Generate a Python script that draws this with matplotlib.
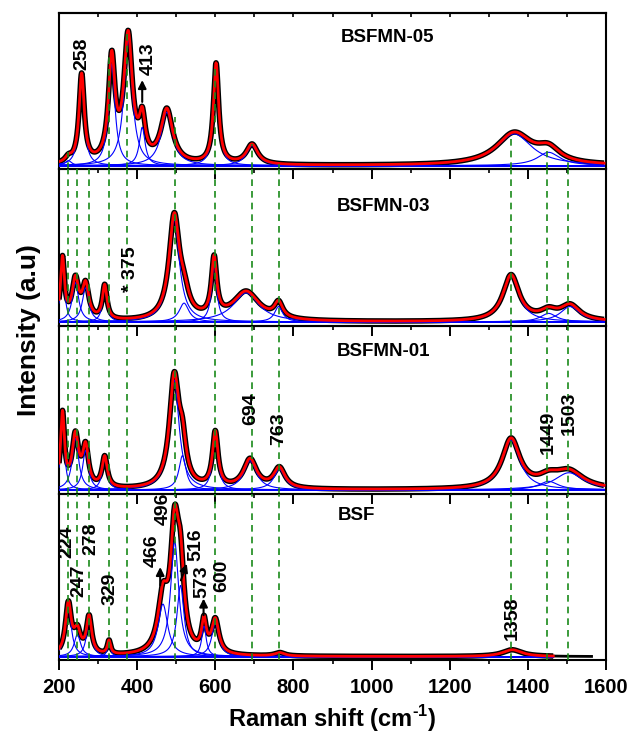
import numpy as np
import matplotlib
matplotlib.use('Agg')
import matplotlib.pyplot as plt
from matplotlib.ticker import MultipleLocator

plt.rcParams['font.family'] = ['Liberation Sans', 'DejaVu Sans']
plt.rcParams['font.weight'] = 'bold'
plt.rcParams['mathtext.fontset'] = 'custom'
plt.rcParams['mathtext.bf'] = 'Liberation Sans:bold'
plt.rcParams['mathtext.rm'] = 'Liberation Sans:bold'

# ---------------- data ----------------
samples = ['BSFMN-05', 'BSFMN-03', 'BSFMN-01', 'BSF']

# Lorentzian components: centre (cm-1), amplitude (a.u.), FWHM (cm-1)
bsfmn05_centers = [224, 258, 335, 377, 413, 476, 602, 694, 1365, 1453]
bsfmn05_amps    = [15, 265, 305, 375, 115, 160, 300, 60, 95, 40]
bsfmn05_widths  = [20, 16, 20, 26, 18, 36, 16, 35, 110, 70]

bsfmn03_centers = [209, 242, 268, 317, 495, 520, 597, 679, 762, 1357, 1453, 1508]
bsfmn03_amps    = [180, 115, 100, 100, 300, 55, 170, 85, 45, 135, 25, 45]
bsfmn03_widths  = [12, 20, 20, 14, 32, 30, 16, 80, 25, 50, 50, 60]

bsfmn01_centers = [209, 242, 268, 317, 495, 516, 600, 689, 764, 1357, 1453, 1505]
bsfmn01_amps    = [215, 150, 115, 90, 320, 100, 160, 85, 60, 145, 25, 50]
bsfmn01_widths  = [12, 20, 18, 16, 30, 22, 17, 40, 35, 55, 60, 90]

bsf_centers = [224, 247, 277, 328, 466, 496, 511, 571, 600, 765, 1360]
bsf_amps    = [150, 65, 110, 40, 155, 340, 210, 90, 100, 10, 20]
bsf_widths  = [18, 20, 16, 10, 30, 25, 22, 14, 22, 30, 60]

data_end = [1595, 1595, 1595, 1563]
fit_end  = [1595, 1595, 1595, 1465]
ylims = [(-10, 457), (-12, 448), (-12, 478), (-10, 480)]
height_ratios = [156, 157, 168, 166]

# dashed reference lines
ref_lines = [224, 247, 278, 329, 375, 496, 600, 694, 763, 1358, 1449, 1503]
top_lines = [224, 329, 375, 496, 600, 694, 763, 1358, 1449, 1503]
top_line_heights = [40, 325, 395, 145, 305, 65, 5, 95, 45, 15]

# annotations: (text, x, y as fraction of panel height)
labels_05 = [('258', 258, 0.74), ('413', 429, 0.71)]
labels_03 = [('* 375', 383, 0.36)]
labels_01 = [('694', 691, 0.51), ('763', 762, 0.39), ('1449', 1451, 0.37), ('1503', 1506, 0.48)]
labels_bsf = [('224', 221, 0.71), ('247', 252, 0.48), ('278', 282, 0.73), ('329', 331, 0.43),
              ('466', 438, 0.66), ('496', 467, 0.91), ('516', 550, 0.695), ('573', 566, 0.47),
              ('600', 617, 0.51), ('1358', 1361, 0.25)]
arrows_05 = [((413, 0.43), (413, 0.57))]
arrows_bsf = [((459, 0.45), (459, 0.56)), ((512, 0.48), (527, 0.58)), ((570, 0.27), (570, 0.37))]
title_pos = [(1040, 0.84), (1031, 0.76), (1031, 0.85), (961, 0.87)]

params = [(bsfmn05_centers, bsfmn05_amps, bsfmn05_widths),
          (bsfmn03_centers, bsfmn03_amps, bsfmn03_widths),
          (bsfmn01_centers, bsfmn01_amps, bsfmn01_widths),
          (bsf_centers, bsf_amps, bsf_widths)]
all_labels = [labels_05, labels_03, labels_01, labels_bsf]
all_arrows = [arrows_05, [], [], arrows_bsf]


def lorentz(x, c, a, w):
    hw = w / 2.0
    return a * hw ** 2 / ((x - c) ** 2 + hw ** 2)


fig = plt.figure(figsize=(6.4, 7.35), dpi=100)
gs = fig.add_gridspec(4, 1, height_ratios=height_ratios, hspace=0,
                      left=59 / 640, right=606 / 640, top=1 - 13 / 735, bottom=1 - 660 / 735)
axes = [fig.add_subplot(gs[i]) for i in range(4)]

green = '#1a8a1a'
for i, ax in enumerate(axes):
    ax.set_facecolor('none')
    cs, amps, ws = params[i]
    xf = np.linspace(200, fit_end[i], 1400)
    total_f = sum(lorentz(xf, c, a, w) for c, a, w in zip(cs, amps, ws))
    ax.plot(xf, total_f, color='black', lw=4.0, zorder=2, solid_capstyle='butt')
    if data_end[i] > fit_end[i]:
        xt = np.linspace(fit_end[i], data_end[i], 200)
        total_t = sum(lorentz(xt, c, a, w) for c, a, w in zip(cs, amps, ws))
        ax.plot(xt, total_t, color='black', lw=2.0, zorder=2)
    for c, a, w in zip(cs, amps, ws):
        ax.plot(xf, lorentz(xf, c, a, w), color='blue', lw=0.8, zorder=3)
    ax.plot([200, fit_end[i]], [0, 0], color='blue', lw=1.4, zorder=3)
    ax.plot(xf, total_f, color='red', lw=2.0, zorder=4)

    if i == 0:
        for x, h in zip(top_lines, top_line_heights):
            ax.plot([x, x], [ylims[i][0], h], color=green, lw=1.2, ls=(0, (4, 3)), zorder=5)
    else:
        for x in ref_lines:
            ax.axvline(x, color=green, lw=1.2, ls=(0, (4, 3)), zorder=5)

    ax.set_xlim(200, 1600)
    ax.set_ylim(*ylims[i])
    ax.set_yticks([])
    ax.xaxis.set_major_locator(MultipleLocator(200))
    ax.xaxis.set_minor_locator(MultipleLocator(100))
    ax.tick_params(axis='x', which='major', direction='out', length=7, width=1.4,
                   labelsize=14.5, pad=6)
    ax.tick_params(axis='x', which='minor', direction='out', length=3, width=1.2)
    for sp in ax.spines.values():
        sp.set_linewidth(1.5)
    if i < 3:
        ax.tick_params(axis='x', labelbottom=False)

    tr = ax.get_xaxis_transform()
    ax.text(title_pos[i][0], title_pos[i][1], samples[i], transform=tr, fontsize=13.5,
            fontweight='bold', ha='center', va='center')
    for txt, x, y in all_labels[i]:
        ax.text(x, y, txt, transform=tr, rotation=90, fontsize=14, fontweight='bold',
                ha='center', va='center', zorder=6)
    for (x0, y0), (x1, y1) in all_arrows[i]:
        ax.annotate('', xy=(x1, y1), xytext=(x0, y0), xycoords=tr, textcoords=tr,
                    arrowprops=dict(arrowstyle='-|>', color='black', lw=1.5,
                                    mutation_scale=12, shrinkA=0, shrinkB=0), zorder=6)

top = axes[0].secondary_xaxis('top')
top.xaxis.set_major_locator(MultipleLocator(100))
top.tick_params(axis='x', direction='in', length=3, width=1.2, labeltop=False)
top.spines['top'].set_linewidth(1.5)

axes[3].set_xlabel('Raman shift (cm$^{\\mathbf{\\text{-}1}}$)', fontsize=17, fontweight='bold', labelpad=4)
fig.text(0.045, 0.551, 'Intensity (a.u)', rotation=90, fontsize=19, fontweight='bold',
         ha='center', va='center')

fig.savefig('out.png', dpi=100)
